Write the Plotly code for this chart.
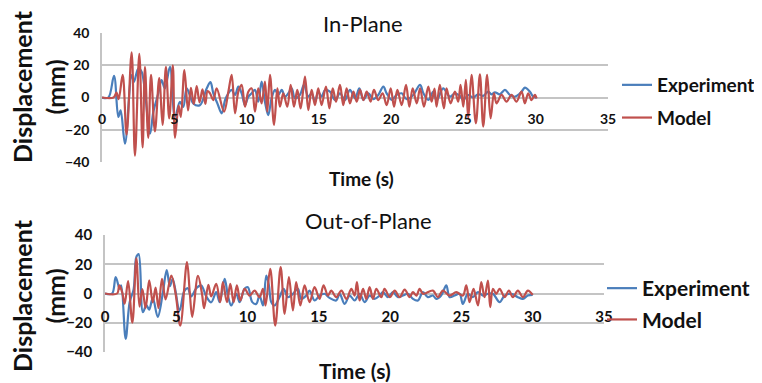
import plotly.graph_objects as go

# ---------------- data ----------------
# In-Plane, Experiment
T_IP_EXP = [0, 0.44, 0.83, 1.13, 1.29, 1.59, 2.05, 2.21, 2.51, 2.74,
            3.32, 3.55, 3.89, 4.12, 4.35, 4.7, 5.05, 5.39, 5.62, 5.85,
            6.08, 6.31, 6.77, 7.24, 7.5, 7.7, 7.98, 8.28, 8.51, 8.74,
            8.97, 9.2, 9.43, 9.66, 9.89, 10.12, 10.35, 10.58, 10.81, 11.04,
            11.27, 11.5, 11.73, 11.97, 12.2, 12.43, 12.66, 12.89, 13.12, 13.35,
            13.69, 13.97, 14.27, 14.5, 14.73, 14.96, 15.19, 15.42, 15.77, 16.12,
            16.46, 16.81, 17.15, 17.5, 17.8, 18.08, 18.42, 18.77, 19.11, 19.46,
            19.69, 20.04, 20.38, 20.73, 21.07, 21.53, 22.0, 22.23, 22.57, 22.92,
            23.14, 23.6, 24.06, 24.41, 24.75, 24.99, 25.33, 25.68, 26.02, 26.37,
            26.71, 26.94, 27.18, 27.52, 27.87, 28.21, 28.56, 29.02, 29.25, 29.6,
            29.83, 30.06]
V_IP_EXP = [0, 0, 13.5, -12, -8, -28.6, 13.9, 9.7, 18, 16,
            -22.4, -9, 2.5, 10.8, 5.6, 19, -12, -2.7, -5.8, 5.6,
            1.4, -3.7, -4.8, 5.6, 9.5, 2.6, -3.6, -9.8, -1.6, 2.6,
            4.7, 1.6, 6.7, 2.6, -4.7, 0.5, 2.6, 4.7, -2.6, 9.8,
            -2.6, -10.9, -0.5, 4.7, 1.6, 4.7, 0.5, 2.6, 5.7, -0.5,
            1.6, 7.8, 0.5, 2.6, -2.6, 3.6, 0.5, 4.7, 3.6, -1.6,
            2.6, -1.5, 4.7, -0.5, 5.7, -1.5, 2.6, -1.0, 1.6, 6.7,
            2.6, -1.5, 1.6, 2.6, -1.0, 1.6, 7.8, 2.6, -1.5, 3.6,
            -2, 5.7, 0.5, 2.5, 1.0, -1.6, 1.5, 0.0, 2.0, 1.0,
            3.6, 2.0, 3.2, 2.0, 4.7, 1.6, 0.5, 3.6, 6.1, 3.6,
            0.5, -0.1]

# In-Plane, Model
T_IP_MOD = [0, 0.8, 1.0, 1.15, 1.43, 1.7, 2.05, 2.28, 2.58, 2.81,
            2.97, 3.2, 3.39, 3.66, 3.96, 4.19, 4.42, 4.65, 4.9, 5.05,
            5.3, 5.45, 5.7, 5.95, 6.15, 6.35, 6.55, 6.75, 6.95, 7.15,
            7.3, 7.47, 7.7, 7.93, 8.44, 8.74, 8.97, 9.2, 9.43, 9.66,
            9.89, 10.12, 10.35, 10.58, 10.81, 11.04, 11.27, 11.43, 11.62, 11.9,
            12.13, 12.31, 12.54, 12.82, 13.05, 13.28, 13.51, 13.74, 14.04, 14.27,
            14.5, 14.73, 14.96, 15.19, 15.49, 15.73, 15.96, 16.19, 16.46, 16.69,
            16.92, 17.15, 17.39, 17.62, 17.85, 18.08, 18.31, 18.58, 18.81, 19.11,
            19.41, 19.69, 19.97, 20.2, 20.43, 20.73, 21.03, 21.26, 21.49, 21.77,
            22.0, 22.27, 22.57, 22.8, 23.0, 23.14, 23.37, 23.65, 23.83, 24.11,
            24.41, 24.64, 24.8, 24.99, 25.17, 25.33, 25.56, 25.86, 26.14, 26.37,
            26.64, 26.88, 27.11, 27.29, 27.64, 27.98, 28.33, 28.67, 29.02, 29.25,
            29.48, 29.71, 29.94, 30.06]
V_IP_MOD = [0, 0, 3, -1, 14, -23, 28, -36, 27, -31,
            19, -25, 14, -21, 12, -17, 19, -13, 20, -25,
            -5, -12, 17, -8, 6, -4, 7, -3, 5, -4,
            4, 2.6, -1.6, 5.7, -8.8, 3.6, 14, -9.8, 3.6, 7.8,
            -5.7, 3.6, 5.7, -8.8, 5.7, -3.6, 9.8, -8.8, 14, -17,
            5.7, -5.7, 2.6, -5.7, 7.8, -5.7, 4.7, -6.8, 12.9, -7.8,
            4.7, -4.7, 5.7, -4.7, 6.7, -6.7, 5.7, -2.6, 7.8, -4.7,
            5.7, -3.6, 3.6, -2.6, 4.7, -1.6, 3.6, -2.6, 4.7, -1.6,
            2.6, -4.7, 5.7, -5.7, 4.7, -4.7, 7.8, -5.7, 5.7, -3.6,
            5.7, -5.7, 6.7, -2.6, 5.5, -5.7, 7.8, -6.7, 5.7, -3.6,
            3.6, -2.6, 7.8, -5.7, 10.9, -12.9, 14, -16, 14.4, -18,
            14, -12.9, 2.6, -3.6, 1.6, -2.6, 1.6, -2.6, 3.6, -3.6,
            2.6, -1.6, 1.6, -0.5]

# Out-of-Plane, Experiment
T_OP_EXP = [0, 0.5, 0.75, 1.03, 1.14, 1.45, 1.73, 2.01, 2.2, 2.36,
            2.66, 2.9, 3.1, 3.35, 3.7, 4.05, 4.33, 4.55, 4.75, 5.23,
            5.55, 5.8, 6.05, 6.4, 6.75, 7.1, 7.45, 7.8, 8.04, 8.39,
            8.62, 8.86, 9.21, 9.44, 9.79, 10.02, 10.33, 10.61, 10.84, 11.08,
            11.31, 11.5, 11.66, 11.89, 12.24, 12.53, 12.83, 13.18, 13.53, 13.76,
            14.11, 14.35, 14.7, 15.05, 15.4, 15.75, 16.22, 16.46, 16.81, 17.16,
            17.51, 17.86, 18.21, 18.56, 18.91, 19.26, 19.5, 19.85, 20.2, 20.55,
            20.9, 21.25, 21.6, 21.95, 22.3, 22.65, 23.0, 23.23, 23.58, 23.94,
            24.17, 24.52, 24.87, 25.1, 25.45, 25.8, 26.16, 26.51, 26.86, 27.21,
            27.68, 28.03, 28.49, 28.96, 29.31, 29.66, 30.0]
V_OP_EXP = [0, 0, 11.2, 3.2, 5.5, -31, -6, 3, 25, 27,
            -12.8, -8, -11, -3, -16, 0, 16, 5, 10, -11.6,
            1.5, 3.6, -2, 3.6, 5.5, -2, -6, 0.9, -5.9, 10,
            -1.4, -8.2, -0.2, -5.9, 3.2, 4.3, -5.9, -7.1, -1.4, -8.2,
            12.3, 5.5, -5.9, -8.2, -2.5, 3.2, -2.5, -0.2, 3.2, -3.7,
            -1.4, 2, -4.8, -1.4, -0.2, -3, -4.8, -0.2, -7.1, -1.4,
            -4.8, -0.2, -5.9, -1.4, -3.7, -1.4, 0.9, -2.5, 0.9, -2.5,
            -1.4, -0.2, -3.7, -4.8, 0.9, -2.5, -1.4, -3.7, -1.4, 5.5,
            -2.5, -1.4, -0.2, -7.1, -0.2, -2.5, 0.9, -1.4, -0.2, -0.2,
            -5.9, -1.4, -0.2, -2.5, -3.7, -1.4, -0.9]

# Out-of-Plane, Model
T_OP_MOD = [0, 0.85, 1.0, 1.2, 1.38, 1.62, 1.92, 2.2, 2.42, 2.62,
            2.85, 3.1, 3.35, 3.55, 3.75, 4.0, 4.25, 4.65, 4.95, 5.28,
            5.75, 5.95, 6.12, 6.52, 6.8, 6.95, 7.25, 7.45, 7.8, 8.08,
            8.27, 8.55, 8.79, 9.02, 9.25, 9.49, 9.79, 10.14, 10.49, 10.84,
            11.08, 11.26, 11.59, 11.94, 12.32, 12.6, 12.9, 13.18, 13.41, 13.7,
            14.0, 14.35, 14.7, 15.05, 15.33, 15.64, 15.87, 16.22, 16.58, 16.93,
            17.28, 17.51, 17.67, 17.86, 18.1, 18.33, 18.56, 18.8, 19.03, 19.38,
            19.61, 19.97, 20.32, 20.67, 21.02, 21.37, 21.6, 21.84, 22.07, 22.3,
            23.0, 23.35, 23.7, 24.17, 24.64, 25.1, 25.34, 25.57, 25.85, 26.16,
            26.39, 26.62, 26.86, 27.02, 27.21, 27.44, 27.68, 28.03, 28.33, 28.61,
            28.96, 29.31, 29.66, 30.0]
V_OP_MOD = [0, 0, 5.5, 1, -7, 8.5, -20, 24, -9, 3,
            -10, 9, -6, 4, -10, 10, -4, 12.3, 0, -22,
            21.5, 0, -16, 12, 0, -10, 6, -2, 6.6, -5.9,
            7.8, -5.9, 6.6, -5.9, 5.5, -4.8, 3.2, -1.4, 2, -2.5,
            3.2, -8.2, 16.9, -21.9, 18, -13.9, 11.2, -11.6, 7.8, -8.2,
            5.5, -5.9, 4.3, -3.7, 5.5, -1.4, 2, -2.5, 2, -3.7,
            3.2, -1.4, 7.8, -4.8, 3.2, -3.7, 4.3, -3.7, 3.2, -2.5,
            3.2, -2.5, 2, -2.5, 2.7, -2.5, 0.9, -1.4, 3.2, -0.2,
            2, -2.5, 2, -1.4, 0.9, -1.4, 5.5, -5.9, 3.2, -8.2,
            7.8, -2.5, 8.9, -9.4, 3.2, -0.2, 3.2, -2.5, 2, -2.5,
            2, -2.5, 2, -0.9]

SERIES_NAMES = ["Experiment", "Model"]
PANEL_TITLES = ["In-Plane", "Out-of-Plane"]
X_TITLE = "Time (s)"
Y_TITLE = "Displacement<br>(mm)"
X_TICKS = [0, 5, 10, 15, 20, 25, 30, 35]
Y_TICKS = [-40, -20, 0, 20, 40]

# ---------------- styling ----------------
PAGE_W, PAGE_H = 762, 383
OFF = 8                      # default page margin around the plot div
W, H = PAGE_W - OFF, PAGE_H - OFF
BLUE = "#4A7EBB"
RED = "#C0504D"
GRID = "#C4C4C4"
FONT = "Lato"
TXT = "#111111"


def px(x):
    """page pixel x -> paper fraction"""
    return (x - OFF) / W


def py(y):
    """page pixel y -> paper fraction"""
    return 1 - (y - OFF) / H


fig = go.Figure()

panels = [
    dict(x="x", y="y", legend="legend", data=[(T_IP_EXP, V_IP_EXP), (T_IP_MOD, V_IP_MOD)]),
    dict(x="x2", y="y2", legend="legend2", data=[(T_OP_EXP, V_OP_EXP), (T_OP_MOD, V_OP_MOD)]),
]
for pi, p in enumerate(panels):
    for si, (t, v) in enumerate(p["data"]):
        fig.add_trace(go.Scatter(
            x=t, y=v, mode="lines", name=SERIES_NAMES[si],
            line=dict(color=[BLUE, RED][si], width=2.2, shape="spline", smoothing=1.0),
            xaxis=p["x"], yaxis=p["y"], legend=p["legend"],
            legendgroup=f"g{pi}{si}", hoverinfo="skip",
        ))


def xaxis(domain, pos, size):
    return dict(domain=domain, range=[0, 35], tickvals=X_TICKS, anchor="free", position=pos,
                showgrid=False, zeroline=False, showline=False, automargin=False,
                ticks="outside", ticklen=9, tickcolor="rgba(0,0,0,0)",
                tickfont=dict(family=FONT, size=size, color=TXT, weight="bold"))


def yaxis(domain, anchor, size):
    return dict(domain=domain, range=[-40, 40], tickvals=Y_TICKS, anchor=anchor,
                showgrid=True, gridcolor=GRID, gridwidth=1.5, zeroline=False,
                showline=True, linecolor=GRID, linewidth=1.5, automargin=False,
                ticks="outside", ticklen=8, tickcolor="rgba(0,0,0,0)",
                tickfont=dict(family=FONT, size=size, color=TXT, weight="bold"))


fig.update_layout(
    width=W, height=H, margin=dict(l=0, r=0, t=0, b=0, pad=0, autoexpand=False),
    paper_bgcolor="white", plot_bgcolor="white",
    xaxis=xaxis([px(102), px(608)], py(97.5), 14),
    yaxis=yaxis([py(162), py(33)], "x", 14),
    xaxis2=xaxis([px(105), px(604)], py(293.5), 15),
    yaxis2=yaxis([py(352), py(235)], "x2", 15),
    legend=dict(x=px(617), y=py(66), xanchor="left", yanchor="top",
                font=dict(family=FONT, size=19, color=TXT, weight="bold"),
                tracegroupgap=5, bgcolor="rgba(0,0,0,0)"),
    legend2=dict(x=px(602), y=py(268), xanchor="left", yanchor="top",
                 font=dict(family=FONT, size=21, color=TXT, weight="bold"),
                 tracegroupgap=1, bgcolor="rgba(0,0,0,0)"),
    showlegend=True,
)

annos = [
    dict(text=PANEL_TITLES[0], x=px(363), y=py(23), size=22, weight="normal", angle=0),
    dict(text=PANEL_TITLES[1], x=px(368), y=py(221), size=22, weight="normal", angle=0),
    dict(text=X_TITLE, x=px(361), y=py(179), size=19, weight="bold", angle=0),
    dict(text=X_TITLE, x=px(355), y=py(370), size=21, weight="bold", angle=0),
    dict(text=Y_TITLE, x=px(38), y=py(87), size=25, weight="bold", angle=-90),
    dict(text=Y_TITLE, x=px(38), y=py(296), size=25, weight="bold", angle=-90),
]
for a in annos:
    fig.add_annotation(text=a["text"], x=a["x"], y=a["y"], xref="paper", yref="paper",
                       xanchor="center", yanchor="middle", showarrow=False,
                       textangle=a["angle"],
                       font=dict(family=FONT, size=a["size"], color=TXT, weight=a["weight"]))

fig.write_html("out.html")
